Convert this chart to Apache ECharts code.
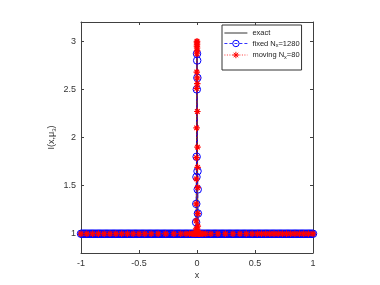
<!DOCTYPE html>
<html>
<head>
<meta charset="utf-8">
<script src="https://cdn.jsdelivr.net/npm/echarts@6/dist/echarts.min.js"></script>
<style>html,body{margin:0;padding:0;background:#fff}#c{width:380px;height:285px}</style>
</head>
<body>
<div id="c"></div>
<script>
// x tick labels
const xTicks = [-1, -0.5, 0, 0.5, 1];
const yTicks = [1, 1.5, 2, 2.5, 3];
const FLAT = 1; // level of solution away from the spike

// exact solution
const exactX = [-1, -0.008, -0.006, -0.004, -0.002, 0, 0.002, 0.004, 0.006, 0.008, 1];
const exactY = [1, 1, 1.3, 1.9, 2.6, 3, 2.6, 1.9, 1.3, 1, 1];

// fixed mesh Nx=1280 (flat parts at level FLAT)
const fixedFlatLeftX = [-1,-0.99,-0.98,-0.97,-0.96,-0.95,-0.94,-0.93,-0.92,-0.91,-0.9,-0.89,-0.88,-0.87,-0.86,-0.85,-0.84,-0.83,-0.82,-0.81,-0.8,-0.79,-0.78,-0.77,-0.76,-0.75,-0.74,-0.73,-0.72,-0.71,-0.7,-0.69,-0.68,-0.67,-0.66,-0.65,-0.64,-0.63,-0.62,-0.61,-0.6,-0.59,-0.58,-0.57,-0.56,-0.55,-0.54,-0.53,-0.52,-0.51,-0.5,-0.49,-0.48,-0.47,-0.46,-0.45,-0.44,-0.43,-0.42,-0.41,-0.4,-0.39,-0.38,-0.37,-0.36,-0.35,-0.34,-0.33,-0.32,-0.31,-0.3,-0.29,-0.28,-0.27,-0.26,-0.25,-0.24,-0.23,-0.22,-0.21,-0.2,-0.19,-0.18,-0.17,-0.16,-0.15,-0.14,-0.13,-0.12,-0.11,-0.1,-0.09,-0.08,-0.07,-0.06,-0.05,-0.04,-0.03,-0.02,-0.011];
const fixedSpikeX = [-0.0094,-0.0078,-0.0063,-0.0047,-0.0031,-0.0016,0,0.0016,0.0031,0.0047,0.0063,0.0078,0.0094];
const fixedSpikeY = [1.0,1.12,1.31,1.59,1.8,2.5,2.87,2.8,2.62,1.65,1.46,1.21,1.0];
const fixedFlatRightX = [0.011,0.02,0.03,0.04,0.05,0.06,0.07,0.08,0.09,0.1,0.11,0.12,0.13,0.14,0.15,0.16,0.17,0.18,0.19,0.2,0.21,0.22,0.23,0.24,0.25,0.26,0.27,0.28,0.29,0.3,0.31,0.32,0.33,0.34,0.35,0.36,0.37,0.38,0.39,0.4,0.41,0.42,0.43,0.44,0.45,0.46,0.47,0.48,0.49,0.5,0.51,0.52,0.53,0.54,0.55,0.56,0.57,0.58,0.59,0.6,0.61,0.62,0.63,0.64,0.65,0.66,0.67,0.68,0.69,0.7,0.71,0.72,0.73,0.74,0.75,0.76,0.77,0.78,0.79,0.8,0.81,0.82,0.83,0.84,0.85,0.86,0.87,0.88,0.89,0.9,0.91,0.92,0.93,0.94,0.95,0.96,0.97,0.98,0.99,1];

// moving mesh Nx=80
const movFlatLeftX = [-1,-0.95,-0.9,-0.85,-0.8,-0.75,-0.7,-0.65,-0.6,-0.55,-0.5,-0.45,-0.395,-0.335,-0.27,-0.2,-0.14,-0.095,-0.065,-0.042,-0.027,-0.017,-0.011];
const movSpikeX = [-0.0085,-0.0078,-0.0072,-0.0068,-0.006,-0.0052,-0.0045,-0.0035,-0.0024,-0.0018,-0.0012,-0.0007,-0.0003,0,0.0004,0.0008,0.0011,0.002,0.0023,0.003,0.0041,0.0048,0.0055,0.0064,0.007,0.0076,0.0082,0.009];
const movSpikeY = [1.005,1.02,1.05,1.135,1.31,1.57,1.79,2.1,2.51,2.68,2.87,2.95,2.99,3.0,2.97,2.93,2.9,2.62,2.56,2.27,1.9,1.69,1.48,1.21,1.08,1.03,1.01,1.0];
const movFlatRightX = [0.014,0.022,0.034,0.05,0.075,0.12,0.18,0.245,0.31,0.37,0.425,0.475,0.52,0.556,0.592,0.628,0.664,0.7,0.736,0.772,0.808,0.844,0.882,0.92,0.96,1.0];

const pair = (xs, ys) => xs.map((x, i) => [x, ys[i]]);
const flat = xs => xs.map(x => [x, FLAT]);

const exactData = pair(exactX, exactY);
const fixedData = flat(fixedFlatLeftX).concat(pair(fixedSpikeX, fixedSpikeY), flat(fixedFlatRightX));
const movData = flat(movFlatLeftX).concat(pair(movSpikeX, movSpikeY), flat(movFlatRightX));

const FONT = "'Liberation Sans', Arial, Helvetica, sans-serif";
const AX = '#404040';
const star = 'path://M0,-5L0,5M-5,0L5,0M-3.5,-3.5L3.5,3.5M-3.5,3.5L3.5,-3.5';

const baseAxis = {
  axisLine: {show: true, onZero: false, lineStyle: {color: AX, width: 1}},
  axisTick: {show: true, inside: true, length: 3, lineStyle: {color: AX}},
  splitLine: {show: false}
};

const chart = echarts.init(document.getElementById('c'), null, {renderer: 'canvas'});
chart.setOption({
  animation: false,
  backgroundColor: '#fff',
  grid: {left: 81, right: 67, top: 22, bottom: 32, containLabel: false},
  xAxis: [
    Object.assign({}, baseAxis, {
      type: 'value', min: -1, max: 1, interval: 0.5, position: 'bottom',
      name: 'x', nameLocation: 'middle', nameGap: 18, nameMoveOverlap: false,
      nameTextStyle: {fontFamily: FONT, fontSize: 9, color: '#333'},
      axisLabel: {fontFamily: FONT, fontSize: 9, color: '#333', margin: 6,
        formatter: v => xTicks.includes(v) ? String(v) : ''}
    }),
    Object.assign({}, baseAxis, {
      type: 'value', min: -1, max: 1, interval: 0.5, position: 'top',
      axisLabel: {show: false}
    })
  ],
  yAxis: [
    Object.assign({}, baseAxis, {
      type: 'value', min: 0.8, max: 3.2, position: 'left',
      axisTick: {show: true, inside: true, length: 3, lineStyle: {color: AX}, customValues: yTicks},
      axisLabel: {fontFamily: FONT, fontSize: 9, color: '#333', margin: 5, customValues: yTicks,
        formatter: v => String(v)},
      name: 'I(x,μ{s|3})', nameLocation: 'middle', nameGap: 24, nameRotate: 90, nameMoveOverlap: false,
      nameTextStyle: {fontFamily: FONT, fontSize: 9, color: '#333',
        rich: {s: {fontFamily: FONT, fontSize: 6, color: '#333', verticalAlign: 'bottom', padding: [4, 0, 0, 0]}}}
    }),
    Object.assign({}, baseAxis, {
      type: 'value', min: 0.8, max: 3.2, position: 'right',
      axisTick: {show: true, inside: true, length: 3, lineStyle: {color: AX}, customValues: yTicks},
      axisLabel: {show: false}
    })
  ],
  legend: {
    orient: 'vertical', left: 222, top: 25,
    itemWidth: 23, itemHeight: 8, itemGap: 2.5,
    padding: [4, 2, 10, 2],
    borderColor: '#333', borderWidth: 1, backgroundColor: '#fff', borderRadius: 0,
    textStyle: {fontFamily: FONT, fontSize: 7.5, color: '#222',
      rich: {s: {fontFamily: FONT, fontSize: 5.5, color: '#222', verticalAlign: 'bottom', padding: [4, 0, 0, 0]}}},
    formatter: n => n === 'exact' ? 'exact' : (n === 'fixed' ? 'fixed N{s|x}=1280' : 'moving N{s|x}=80'),
    data: [
      {name: 'exact', itemStyle: {color: 'rgba(0,0,0,0)', borderWidth: 0, opacity: 0},
        lineStyle: {color: '#000', width: 0.8}},
      {name: 'fixed', itemStyle: {color: 'rgba(0,0,0,0)', borderColor: '#0000ff', borderWidth: 1},
        lineStyle: {color: '#0000ff', width: 0.8, type: [3, 2]}},
      {name: 'moving', itemStyle: {color: '#ff0000', borderColor: '#ff0000', borderWidth: 1},
        lineStyle: {color: '#ff0000', width: 0.8, type: [1, 1.5]}}
    ]
  },
  series: [
    {name: 'exact', type: 'line', data: exactData, symbol: 'none',
      lineStyle: {color: '#000', width: 0.8}, itemStyle: {color: '#000'}, z: 2},
    {name: 'fixed', type: 'line', data: fixedData, symbol: 'circle', symbolSize: 7.5, showSymbol: true,
      lineStyle: {color: '#0000ff', width: 0.8, type: [4, 3]},
      itemStyle: {color: 'rgba(0,0,0,0)', borderColor: '#0000ff', borderWidth: 1}, z: 3},
    {name: 'moving', type: 'line', data: movData, symbol: star, symbolSize: 6.5, showSymbol: true,
      lineStyle: {color: '#ff0000', width: 0.8, type: [1, 2]},
      itemStyle: {color: '#ff0000', borderColor: '#ff0000', borderWidth: 1.2}, z: 4}
  ]
});
</script>
</body>
</html>
